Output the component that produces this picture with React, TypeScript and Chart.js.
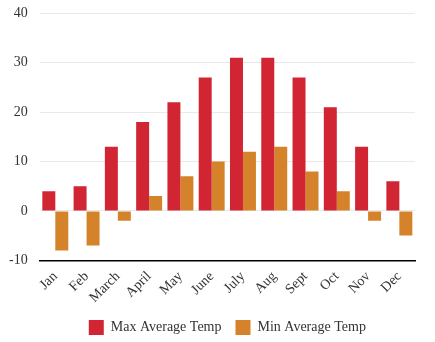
import React, { useEffect, useRef } from "react";
import { Chart, registerables } from "chart.js";

Chart.register(...registerables);

const months = ["Jan", "Feb", "March", "April", "May", "June", "July", "Aug", "Sept", "Oct", "Nov", "Dec"];
const maxTemps = [4, 5, 13, 18, 22, 27, 31, 31, 27, 21, 13, 6];
const minTemps = [-8, -7, -2, 3, 7, 10, 12, 13, 8, 4, -2, -5];
const seriesNames = ["Max Average Temp", "Min Average Temp"];

export default function App() {
  const ref = useRef<HTMLCanvasElement | null>(null);
  useEffect(() => {
    document.body.style.margin = "0";
    const font = { family: "'Liberation Serif', 'Times New Roman', serif", size: 14 };
    const chart = new Chart(ref.current!, {
      type: "bar",
      data: {
        labels: months,
        datasets: [
          { label: seriesNames[0], data: maxTemps, backgroundColor: "#d22533", categoryPercentage: 0.83, barPercentage: 1 },
          { label: seriesNames[1], data: minTemps, backgroundColor: "#d5832b", categoryPercentage: 0.83, barPercentage: 1 },
        ],
      },
      options: {
        animation: false,
        responsive: false,
        maintainAspectRatio: false,
        layout: { padding: { left: 4, right: 20, top: 0, bottom: -3 } },
        plugins: {
          legend: {
            position: "bottom",
            fullSize: false,
            labels: { font, color: "#333", boxWidth: 15, boxHeight: 15, padding: 14 },
          },
          tooltip: { enabled: false },
        },
        scales: {
          x: {
            grid: { display: false },
            border: { display: true, color: "#000", width: 1.5 },
            ticks: { font, color: "#333", maxRotation: 45, minRotation: 45, padding: 0 },
          },
          y: {
            min: -10,
            max: 40,
            grid: { color: "#e9e9e9", drawTicks: true, tickLength: 7, tickColor: "rgba(0,0,0,0)" },
            border: { display: false },
            ticks: { stepSize: 10, font, color: "#333", padding: 5 },
          },
        },
      },
    });
    return () => chart.destroy();
  }, []);
  return (
    <div style={{ width: 435, height: 342 }}>
      <canvas ref={ref} width={435} height={342} style={{ display: "block" }} />
    </div>
  );
}
